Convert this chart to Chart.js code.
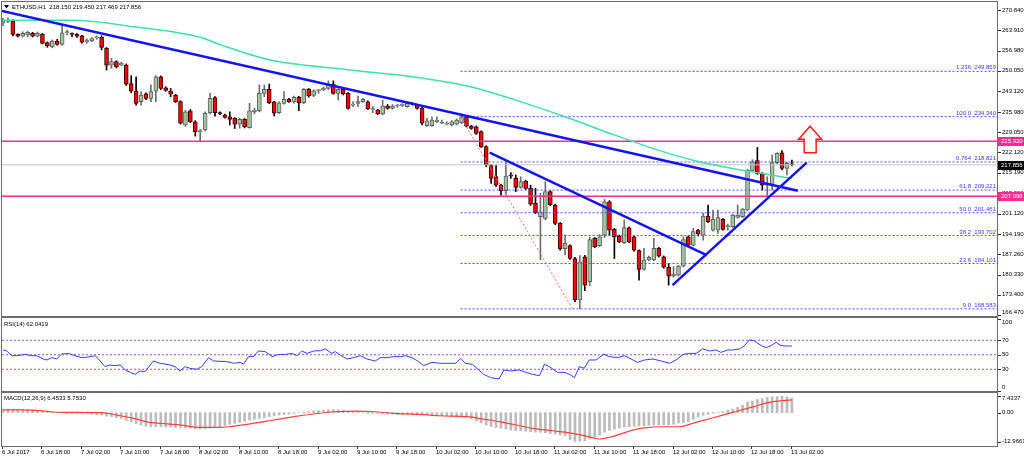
<!DOCTYPE html>
<html>
<head>
<meta charset="utf-8">
<script src="https://cdn.jsdelivr.net/npm/chart.js@4.4.1/dist/chart.umd.min.js"></script>
<style>
  html, body { margin: 0; padding: 0; background: #fff; }
  #wrap { position: relative; width: 1024px; height: 459px; overflow: hidden; background: #fff; }
  #wrap canvas { position: absolute; left: 0; }
</style>
</head>
<body>
<div id="wrap">
  <canvas id="mainChart" width="1024" height="317" style="top:0"></canvas>
  <canvas id="rsiChart" width="1024" height="75" style="top:317px"></canvas>
  <canvas id="macdChart" width="1024" height="67" style="top:392px"></canvas>
</div>
<script>
// ETHUSD H1, 6 Jul 10:00 .. 13 Jul 02:00 (one candle per hour)
const opens = [
  266.3,266.9,267.1,262.5,261.9,262.3,262.9,261.9,262.5,259.7,
  258.2,260.2,259.1,263.1,262.6,262.5,262.0,259.9,260.3,261.3,
  261.5,257.7,252.0,253.2,252.0,252.0,245.7,243.1,239.5,242.2,
  240.6,243.1,248.0,244.2,243.1,241.7,239.5,231.5,236.3,232.6,
  229.2,229.8,235.7,240.9,235.7,234.9,234.3,233.8,231.8,233.4,
  230.6,236.0,236.4,242.3,243.7,239.4,235.7,238.9,240.3,239.4,
  241.0,239.1,243.7,241.6,243.2,243.5,244.0,245.5,242.3,243.7,
  242.3,238.3,238.9,239.5,239.4,236.8,236.6,235.3,238.0,237.2,
  238.0,238.2,237.8,238.6,238.3,237.2,231.3,231.3,232.6,232.1,
  231.8,231.5,231.8,232.3,234.3,231.1,230.9,229.2,224.1,217.8,
  213.8,210.9,209.0,214.1,213.2,210.1,212.3,209.8,204.7,200.1,
  199.5,208.7,204.1,197.8,189.2,190.2,185.8,171.6,186.4,177.9,
  192.7,190.2,193.8,205.2,195.8,193.5,191.2,196.3,193.2,188.5,
  182.1,185.3,185.3,189.3,186.4,182.8,179.8,180.1,183.2,193.2,
  190.4,195.5,193.8,200.3,195.5,195.5,199.2,196.7,196.7,199.9,
  200.1,202.4,215.8,219.3,214.9,210.9,210.9,218.6,222.0,216.6,
  218.150
];
const highs = [
  268.0,268.2,267.6,262.7,263.4,263.6,263.2,263.3,262.8,259.9,
  260.6,260.8,265.5,264.0,263.0,262.8,262.2,261.0,261.4,262.0,
  262.0,258.0,254.3,253.5,253.0,252.4,248.4,248.0,242.9,242.5,
  245.2,248.4,248.3,244.6,244.0,242.0,239.8,236.5,236.8,233.0,
  230.0,236.0,242.3,241.2,236.0,235.2,236.0,234.0,233.8,233.7,
  238.9,237.2,245.2,245.2,245.5,239.6,239.4,242.9,240.6,241.4,
  241.3,244.0,244.0,243.5,243.7,244.4,246.6,246.6,244.0,244.0,
  242.6,239.5,241.4,240.6,239.8,237.8,236.9,240.0,238.5,238.5,
  238.6,238.8,239.2,239.2,238.6,237.5,233.8,234.3,234.3,233.2,
  232.6,233.0,233.6,234.9,234.6,231.4,231.2,229.5,224.4,218.0,
  217.8,211.2,218.6,215.2,214.4,213.8,212.6,210.9,209.8,208.1,
  212.1,209.0,204.4,198.1,193.8,190.5,186.2,186.8,186.9,193.2,
  193.0,194.0,206.0,205.6,196.1,193.8,199.0,196.6,193.5,188.8,
  189.3,186.6,192.7,189.6,186.7,184.1,183.0,183.5,193.3,193.5,
  196.1,195.8,201.3,204.1,202.4,202.4,199.5,197.6,201.0,204.1,
  203.0,216.4,219.6,223.8,215.2,213.8,221.2,222.0,222.7,218.7,
  219.450
];
const lows = [
  265.5,266.5,262.0,261.6,261.6,261.7,261.6,261.6,259.2,258.1,
  257.9,258.8,258.8,262.3,261.7,261.5,259.5,259.5,260.0,260.8,
  257.2,250.3,250.9,251.0,251.8,245.0,242.5,238.3,238.3,240.2,
  239.5,239.5,243.6,243.0,241.2,239.2,231.8,231.0,232.3,227.7,
  226.0,229.5,235.3,234.5,235.0,233.8,231.5,230.3,230.4,230.5,
  230.4,235.3,236.0,241.2,238.8,234.6,235.4,238.6,239.2,239.0,
  236.4,238.8,241.0,241.2,242.3,243.2,243.6,242.0,240.0,241.8,
  236.9,237.8,237.8,239.2,236.8,235.7,235.0,235.0,236.9,236.9,
  237.5,237.8,237.6,238.2,236.9,231.5,231.0,231.0,232.3,231.9,
  231.5,231.2,231.5,232.0,230.8,230.0,228.3,223.8,217.2,211.5,
  210.5,207.5,207.5,213.2,208.7,209.8,209.4,204.0,201.2,185.3,
  199.0,203.8,197.4,188.7,187.0,185.5,171.0,168.583,174.8,176.5,
  189.5,189.9,193.0,193.7,185.8,191.2,190.9,191.2,188.3,178.4,
  181.8,185.0,185.0,186.3,182.5,176.7,179.4,179.8,182.9,190.0,
  190.1,193.5,192.1,198.1,195.2,194.4,195.5,195.5,196.4,199.6,
  199.8,202.1,215.5,214.6,209.2,206.9,209.2,218.3,216.1,214.4,
  217.469
];
const closes = [
  267.1,267.4,262.5,261.9,262.9,263.2,261.9,262.9,259.4,258.6,
  260.2,259.1,263.0,263.2,262.5,261.9,259.8,260.4,261.1,261.4,
  258.0,252.0,253.2,251.4,252.6,245.5,243.1,238.9,241.7,240.6,
  242.9,248.0,244.0,243.3,242.0,239.5,232.1,236.0,232.6,229.2,
  229.6,235.5,240.6,235.7,235.3,234.1,233.4,231.8,233.4,230.9,
  236.3,236.6,242.3,243.7,239.1,235.5,239.1,240.3,239.5,241.0,
  239.1,243.7,241.4,243.2,243.3,244.0,245.2,242.3,243.7,242.1,
  237.2,238.4,239.5,240.3,237.1,236.9,235.3,238.0,237.2,238.0,
  238.1,238.4,238.9,238.7,237.2,232.1,232.9,233.2,233.2,232.1,
  231.9,232.6,233.2,234.3,231.1,230.3,228.6,224.1,217.8,213.2,
  210.9,209.0,214.0,214.0,210.1,212.1,209.8,204.4,201.5,201.8,
  208.7,204.1,197.8,189.2,191.0,185.8,171.6,184.7,176.7,192.3,
  189.8,193.2,205.2,195.5,193.3,191.5,196.4,191.5,188.7,182.1,
  185.3,186.2,189.3,186.6,182.8,179.8,180.5,183.2,192.3,190.4,
  195.0,194.2,200.3,198.4,199.2,199.8,195.8,196.8,200.7,200.7,
  202.7,216.1,218.9,214.9,210.9,211.5,218.6,221.8,216.6,218.4,
  217.856
];

// moving average, read at a few bars
const maIdx = [0, 14, 27, 40, 44, 54, 70, 83, 95, 104, 114, 124, 134, 141, 148, 154, 160];
const maVal = [267.3, 267.3, 265.0, 261.5, 259.0, 253.8, 250.4, 248.0, 244.5, 240.0, 234.3, 228.1, 222.3, 219.0, 216.6, 214.9, 213.2];

// trend lines: [bar0, price0, bar1, price1]
const trendLines = [
  [-0.2, 270.5, 161.2, 209.0],
  [98.7, 222.0, 142.7, 187.0],
  [135.8, 176.7, 163.0, 218.6]
];

// fibonacci retracement
const fibRatios = ['1.236', '100.0', '0.764', '61.8', '50.0', '38.2', '23.6', '0.0'];
const fibPrices = [249.859, 234.340, 218.821, 209.221, 201.461, 193.702, 184.101, 168.583];
const fibFromBar = 92.8, fibToBar = 115.5;

const pinkLevels = [225.920, 207.096];
const lastPrice = 217.856;
const arrowBar = 163.7, arrowTip = 231.1, arrowHead = 226.6, arrowTail = 222.0;

const priceTicks = [270.840, 263.910, 256.980, 250.050, 243.120, 235.980, 229.050, 222.120, 215.190, 208.260, 201.120, 194.190, 187.260, 180.330, 173.400, 166.470];

// RSI(14)
const rsiIdx = [0,0.7,1.8,2.8,4.5,5.8,6.8,8.2,8.9,9.9,
  10.9,11.9,13.3,14.6,16,17.3,18.7,19.7,20.7,21.7,
  22.7,23.8,24.8,25.8,26.8,27.8,28.8,30.5,31.9,33.9,
  34.9,35.9,36.9,37.9,39.3,40.3,41.7,42.7,45.4,46.8,
  48.1,48.8,49.8,50.8,51.8,53.2,54.6,55.9,57.3,58.6,
  59.6,60.6,61.7,63,64.4,65.4,66.7,67.4,68.4,69.8,
  71.1,72.5,73.8,75.5,76.5,77.9,79.2,80.6,81.6,83,
  84.3,85.3,86,87,88.7,91.8,92.8,93.8,95.2,96.5,
  97.5,98.9,100.6,101.6,102.9,104.7,106.1,107.4,108.8,109.8,
  110.8,112.5,113.8,114.9,115.9,116.9,117.9,118.9,120.3,121.8,
  123,124.7,126,127.4,128.7,130.1,131.8,133.5,135.2,136.5,
  137.9,139.2,140.6,141.9,143.3,144.6,145.6,147,148,149.4,
  150.4,151.4,152.4,153.8,154.8,155.8,156.8,157.8,158.8,160];
const rsiVal = [56.6,55.6,48.7,48.7,50.5,48.7,48.7,44.1,42.8,46.0,
  44.1,50.9,51.9,48.7,46.0,46.9,48.7,41.4,33.6,35.9,
  35.0,35.9,29.0,25.7,23.0,27.6,26.7,41.4,38.2,35.9,
  33.6,27.6,33.6,31.3,30.0,33.6,46.0,41.4,40.5,38.2,
  39.5,37.2,47.4,47.4,55.2,54.3,47.4,50.5,50.5,51.9,
  48.7,55.2,51.9,55.2,55.6,58.0,51.9,54.3,49.7,44.1,
  46.0,48.7,44.1,41.4,46.0,46.0,47.4,47.4,48.7,46.0,
  40.5,35.0,36.8,39.5,38.2,38.2,45.1,38.2,36.8,29.0,
  23.0,18.4,16.6,29.0,27.6,29.0,25.7,23.0,21.1,36.8,
  33.6,25.7,25.7,23.0,18.4,33.6,31.3,42.8,42.8,50.9,
  47.4,46.0,48.7,44.1,39.5,42.8,44.1,41.4,38.2,42.8,
  50.5,51.9,51.9,58.0,55.2,56.6,53.3,56.6,56.6,58.0,
  62.6,70.5,69.0,62.6,59.9,62.6,67.2,62.6,62.1,62.0419];
const rsiLevels = [70, 50, 30];
const rsiTicks = [100, 70, 50, 30, 0];

// MACD(12,26,9)
const macdHist = [
  1.6,1.6,1.6,1.6,1.5,1.4,1.2,1.0,0.7,0.4,
  0.2,0.0,-0.2,-0.3,-0.3,-0.3,-0.3,-0.3,-0.6,-0.9,
  -1.1,-1.6,-1.8,-2.3,-2.6,-3.5,-4.1,-4.9,-5.5,-6.0,
  -6.3,-6.3,-6.3,-6.3,-6.4,-6.6,-6.7,-6.9,-7.0,-7.2,
  -7.3,-7.2,-7.0,-6.6,-6.3,-5.8,-5.2,-4.8,-4.4,-3.8,
  -3.3,-2.9,-2.6,-2.2,-1.8,-1.4,-1.1,-0.8,-0.6,-0.3,
  0.0,0.2,0.4,0.7,0.9,1.1,1.3,1.3,1.3,1.0,
  0.7,0.5,0.3,0.0,-0.3,-0.3,-0.3,-0.5,-0.6,-0.7,
  -0.8,-0.8,-0.8,-0.8,-0.8,-1.0,-1.1,-1.3,-1.4,-1.5,
  -1.5,-1.8,-2.0,-2.0,-2.0,-2.8,-3.8,-4.6,-5.5,-6.2,
  -6.7,-7.0,-7.3,-7.8,-8.0,-8.1,-8.3,-8.5,-8.7,-8.8,
  -9.0,-9.3,-9.6,-10.0,-10.4,-12.0,-12.9661,-12.8,-12.6,-11.8,
  -11.0,-10.0,-8.8,-8.0,-7.4,-6.8,-6.5,-6.3,-6.1,-6.0,
  -5.9,-5.6,-5.5,-5.5,-5.5,-5.5,-5.2,-4.6,-4.4,-4.1,
  -3.0,-1.8,-1.2,-0.8,-0.3,0.0,0.4,1.0,1.6,2.4,
  3.4,4.7,5.2,5.9,6.3,6.9,7.1,7.2,7.4337,7.0,
  6.4533
];
const sigIdx = [0,3.4,7.5,9.5,12.9,19.7,21.7,23.8,26.5,29.2,31.9,35.9,40,44.1,46.8,50.8,54.9,59,63,67.1,72.5,75.2,79.3,84.7,88.7,94.2,97.5,100.9,103.4,107.4,111.5,115.5,119.6,120.9,123.6,127.7,130.4,133.8,137.2,139.9,144,148,152.1,156.2,160];
const sigVal = [1.2,1.2,0.9,0.4,0.1,0,-0.5,-1.4,-2.6,-4.1,-4.8,-5.5,-6.6,-6.6,-6.0,-4.8,-3.3,-1.8,-0.6,0.4,0.7,0.4,-0.3,-0.8,-1.4,-1.8,-2.9,-4.1,-5.2,-7.0,-8.1,-9.3,-11.2,-11.8,-10.7,-7.8,-6.7,-6.3,-6.3,-4.8,-2.3,0.1,2.6,4.9,5.753];
const macdTicks = [7.4337, 0, -12.9661];
const macdTickText = ['7.4337', '0.00', '-12.9661'];

// time axis
const timeBars = [0, 8, 16, 24, 32, 40, 48, 56, 64, 72, 80, 88, 96, 104, 112, 120, 128, 136, 144, 152, 160];
const timeLabels = ['6 Jul 2017', '6 Jul 18:00', '7 Jul 02:00', '7 Jul 10:00', '7 Jul 18:00', '8 Jul 02:00', '8 Jul 10:00',
  '8 Jul 18:00', '9 Jul 02:00', '9 Jul 10:00', '9 Jul 18:00', '10 Jul 02:00', '10 Jul 10:00', '10 Jul 18:00',
  '11 Jul 02:00', '11 Jul 10:00', '11 Jul 18:00', '12 Jul 02:00', '12 Jul 10:00', '12 Jul 18:00', '13 Jul 02:00'];

const X_MIN = -0.2, X_MAX = 201.6;
const FONT = '6px "Liberation Sans", Arial, sans-serif';
const FRAME = '#6b6b6b';

const seg = (x0, y0, x1, y1) => [{ x: x0, y: y0 }, { x: x1, y: y1 }];
function lineDs(data, color, width, dash, extra) {
  return Object.assign({
    type: 'line', data, borderColor: color, borderWidth: width, borderDash: dash || [],
    pointRadius: 0, fill: false, tension: 0, order: 0
  }, extra || {});
}

function baseOptions(yMin, yMax, pad) {
  return {
    responsive: false, animation: false, devicePixelRatio: 1, events: [],
    layout: { padding: pad },
    plugins: { legend: { display: false }, tooltip: { enabled: false } },
    scales: {
      x: { type: 'linear', min: X_MIN, max: X_MAX, offset: false, display: false },
      y: { type: 'linear', min: yMin, max: yMax, display: false }
    }
  };
}

// frame + right axis labels, shared by all panels
function drawFrame(chart) {
  const { ctx, chartArea: a } = chart;
  ctx.save();
  ctx.strokeStyle = FRAME;
  ctx.lineWidth = 1;
  const top = Math.max(0.5, a.top - 1.5);
  ctx.strokeRect(1.5, top, 996, a.bottom + 0.5 - top);
  ctx.restore();
}
function drawSideLabels(chart, values, texts) {
  const { ctx, chartArea: a } = chart;
  const ys = chart.scales.y;
  ctx.save();
  ctx.font = FONT;
  ctx.fillStyle = '#000';
  ctx.textBaseline = 'middle';
  ctx.strokeStyle = '#333';
  values.forEach((v, k) => {
    let y = ys.getPixelForValue(v);
    ctx.beginPath();
    ctx.moveTo(998, Math.round(y) + 0.5);
    ctx.lineTo(1001, Math.round(y) + 0.5);
    ctx.stroke();
    y = Math.min(Math.max(y, a.top + 4), a.bottom - 4);
    ctx.fillText(texts[k], 1002, y);
  });
  ctx.restore();
}
function priceBox(chart, price, bg) {
  const { ctx } = chart;
  const y = chart.scales.y.getPixelForValue(price);
  ctx.save();
  ctx.fillStyle = bg;
  ctx.fillRect(998, Math.round(y) - 4, 26, 9);
  ctx.fillStyle = '#fff';
  ctx.font = FONT;
  ctx.textBaseline = 'middle';
  ctx.fillText(price.toFixed(3), 1001, Math.round(y) + 0.5);
  ctx.restore();
}

const whiteBg = {
  id: 'whiteBg',
  beforeDraw(chart) {
    const ctx = chart.ctx;
    ctx.save();
    ctx.fillStyle = '#fff';
    ctx.fillRect(0, 0, chart.width, chart.height);
    ctx.restore();
  }
};

// ---------- main price panel ----------
const isUp = closes.map((c, i) => c >= opens[i]);
const bodyData = opens.map((o, i) => ({ x: i, y: [Math.min(o, closes[i]), Math.max(o, closes[i])] }));
const wickData = highs.map((h, i) => ({ x: i, y: [lows[i], h] }));

const mainDecor = {
  id: 'mainDecor',
  afterDraw(chart) {
    const { ctx } = chart;
    const xs = chart.scales.x, ys = chart.scales.y;
    drawFrame(chart);
    drawSideLabels(chart, priceTicks, priceTicks.map(v => v.toFixed(3)));

    // fib labels
    ctx.save();
    ctx.font = FONT;
    ctx.fillStyle = '#3c3cff';
    ctx.textAlign = 'right';
    ctx.textBaseline = 'middle';
    fibPrices.forEach((p, k) => {
      ctx.fillText(fibRatios[k] + '  ' + p.toFixed(3), 996, ys.getPixelForValue(p) - 3.5);
    });
    ctx.restore();

    pinkLevels.forEach(p => priceBox(chart, p, '#ff2d8f'));
    priceBox(chart, lastPrice, '#000');

    // up arrow
    const cx = xs.getPixelForValue(arrowBar);
    const yTip = ys.getPixelForValue(arrowTip), yHead = ys.getPixelForValue(arrowHead), yTail = ys.getPixelForValue(arrowTail);
    ctx.save();
    ctx.strokeStyle = '#ff1a1a';
    ctx.fillStyle = '#fff';
    ctx.lineWidth = 1.5;
    ctx.beginPath();
    ctx.moveTo(cx, yTip);
    ctx.lineTo(cx + 11.5, yHead);
    ctx.lineTo(cx + 6, yHead);
    ctx.lineTo(cx + 6, yTail);
    ctx.lineTo(cx - 6, yTail);
    ctx.lineTo(cx - 6, yHead);
    ctx.lineTo(cx - 11.5, yHead);
    ctx.closePath();
    ctx.fill();
    ctx.stroke();
    ctx.restore();

    // header
    ctx.save();
    ctx.fillStyle = '#000';
    ctx.beginPath();
    ctx.moveTo(4, 5); ctx.lineTo(9, 5); ctx.lineTo(6.5, 8.5); ctx.closePath();
    ctx.fill();
    ctx.font = FONT;
    ctx.textBaseline = 'middle';
    ctx.fillText('ETHUSD,H1  ' + [opens[160], highs[160], lows[160], closes[160]].map(v => v.toFixed(3)).join(' '), 12, 7);
    ctx.restore();
  }
};

const mainDatasets = [];
trendLines.forEach(t => mainDatasets.push(lineDs(seg(t[0], t[1], t[2], t[3]), '#1414f0', 2.5)));
mainDatasets.push(lineDs(maIdx.map((x, k) => ({ x, y: maVal[k] })), '#3ae3a9', 1.5, null, { cubicInterpolationMode: 'monotone' }));
mainDatasets.push(lineDs(seg(fibFromBar, fibPrices[1], fibToBar, fibPrices[7]), '#ff6f6f', 1, [2, 2]));
fibPrices.forEach(p => mainDatasets.push(lineDs(seg(fibFromBar, p, X_MAX, p), '#4d4dff', 1, [2, 2])));
pinkLevels.forEach(p => mainDatasets.push(lineDs(seg(X_MIN, p, X_MAX, p), '#ff2d8f', 1.5)));
mainDatasets.push(lineDs(seg(X_MIN, lastPrice, X_MAX, lastPrice), '#c3c3c3', 1));
mainDatasets.push({
  type: 'bar', data: bodyData, order: 1, grouped: false,
  backgroundColor: isUp.map(u => u ? '#9fc59f' : '#ff0000'),
  borderColor: isUp.map(u => u ? '#5f5f5f' : '#3a0000'),
  borderWidth: 1, borderSkipped: false, barThickness: 4, minBarLength: 1
});
mainDatasets.push({
  type: 'bar', data: wickData, order: 2, grouped: false,
  backgroundColor: isUp.map(u => u ? '#6e6e6e' : '#000000'),
  borderWidth: 0, barThickness: 1
});

new Chart(document.getElementById('mainChart'), {
  type: 'bar',
  data: { datasets: mainDatasets },
  options: baseOptions(166.13, 273.24, { left: 2, right: 27, top: 3, bottom: 1 }),
  plugins: [whiteBg, mainDecor]
});

// ---------- RSI panel ----------
const rsiDecor = {
  id: 'rsiDecor',
  afterDraw(chart) {
    const { ctx } = chart;
    drawFrame(chart);
    drawSideLabels(chart, rsiTicks, rsiTicks.map(String));
    ctx.save();
    ctx.font = FONT;
    ctx.fillStyle = '#000';
    ctx.textBaseline = 'middle';
    ctx.fillText('RSI(14) ' + rsiVal[rsiVal.length - 1].toFixed(4), 4, 7);
    ctx.restore();
  }
};
const rsiDatasets = rsiLevels.map(l => lineDs(seg(X_MIN, l, X_MAX, l), '#b045e6', 1, [2, 2], { order: 1 }));
rsiDatasets.push(lineDs(rsiIdx.map((x, k) => ({ x, y: rsiVal[k] })), '#3b3bff', 1));

new Chart(document.getElementById('rsiChart'), {
  type: 'line',
  data: { datasets: rsiDatasets },
  options: baseOptions(0, 100.7, { left: 2, right: 27, top: 1, bottom: 1 }),
  plugins: [whiteBg, rsiDecor]
});

// ---------- MACD panel + time axis ----------
const macdDecor = {
  id: 'macdDecor',
  afterDraw(chart) {
    const { ctx, chartArea: a } = chart;
    const xs = chart.scales.x;
    drawFrame(chart);
    drawSideLabels(chart, macdTicks, macdTickText);
    ctx.save();
    ctx.font = FONT;
    ctx.fillStyle = '#000';
    ctx.textBaseline = 'middle';
    ctx.fillText('MACD(12,26,9) ' + macdHist[macdHist.length - 1].toFixed(4) + ' ' + sigVal[sigVal.length - 1].toFixed(4), 4, 6);
    ctx.strokeStyle = '#333';
    timeBars.forEach((b, k) => {
      const x = Math.round(xs.getPixelForValue(b)) + 0.5;
      ctx.beginPath();
      ctx.moveTo(x - 1, a.bottom + 1);
      ctx.lineTo(x - 1, a.bottom + 3);
      ctx.stroke();
      ctx.fillText(timeLabels[k], x - 1.5, a.bottom + 6.5);
    });
    ctx.restore();
  }
};

new Chart(document.getElementById('macdChart'), {
  type: 'bar',
  data: {
    datasets: [
      lineDs(sigIdx.map((x, k) => ({ x, y: sigVal[k] })), '#ff4040', 1.2, null, { cubicInterpolationMode: 'monotone' }),
      {
        type: 'bar', order: 1, grouped: false,
        data: macdHist.map((v, i) => ({ x: i, y: v })),
        backgroundColor: '#bcbcbc', borderWidth: 0, barThickness: 2
      }
    ]
  },
  options: baseOptions(-14.92, 8.34, { left: 2, right: 27, top: 2, bottom: 13 }),
  plugins: [whiteBg, macdDecor]
});
</script>
</body>
</html>
